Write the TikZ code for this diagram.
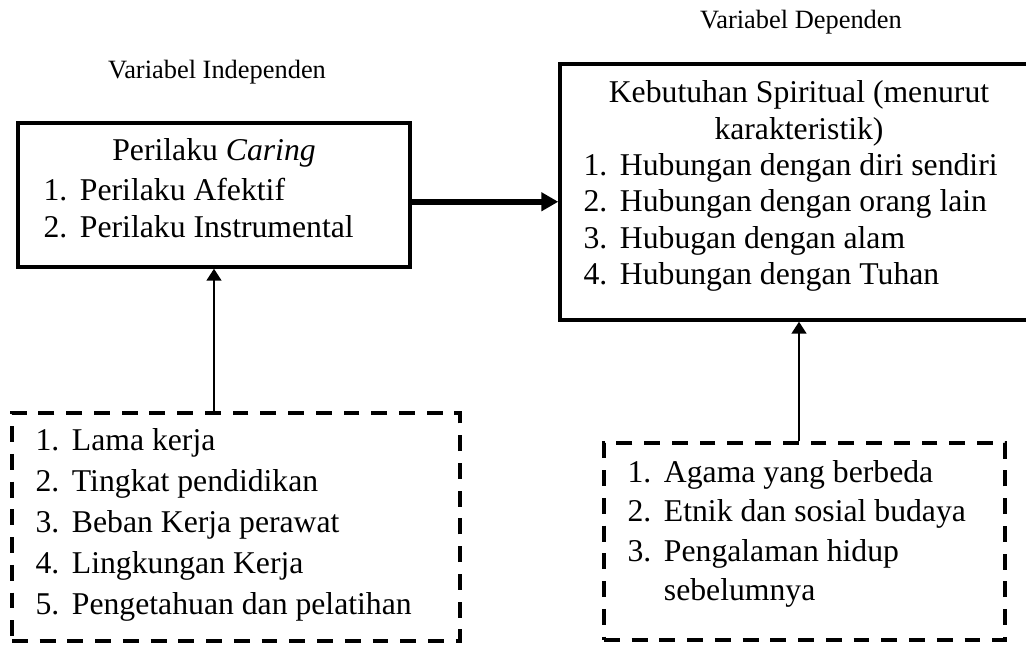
\documentclass[tikz,border=0pt]{standalone}
\usepackage{fontspec}
\setmainfont{Liberation Serif}
\usetikzlibrary{arrows.meta, positioning}
\newcommand{\pxu}{0.0133cm}
\newcommand{\itemno}[1]{\makebox[1.15em][l]{#1}}

\begin{document}
\begin{tikzpicture}[x=\pxu, y=-\pxu, font=\fontsize{12}{14}\selectfont]
    \tikzstyle{solidbox} = [draw, line width=1.3pt, inner sep=0pt]
    \tikzstyle{dashbox} = [draw, line width=1.4pt, dash pattern=on 6pt off 4.5pt,
	inner sep=0pt]
    \tikzstyle{heading} = [font=\fontsize{10}{12}\selectfont, inner sep=0pt]
    \tikzstyle{items} = [align=left, inner sep=0pt, anchor=west]
    \tikzstyle{bigarrow} = [line width=2.2pt, -{Triangle[length=6.4pt, width=6.8pt]}]
    \tikzstyle{thinarrow} = [line width=0.7pt, -{Triangle[length=4.5pt, width=5.6pt]}]

    \useasboundingbox (0,0) rectangle (1026,647);

	\begin{scope}
		\path
			node[solidbox, minimum width=392*\pxu, minimum height=144*\pxu] (caring) at (214,195) {}
			node[solidbox, minimum width=478*\pxu, minimum height=256*\pxu] (spiritual) at (799,192) {}
			node[dashbox, minimum width=448*\pxu, minimum height=228*\pxu] (factorsA) at (236,527) {}
			node[dashbox, minimum width=401*\pxu, minimum height=197*\pxu] (factorsB) at (804.5,541.5) {}

			node[heading] (indep) at (217,72) {Variabel Independen}
			node[heading] (dep) at (801,22) {Variabel Dependen}

			node[inner sep=0pt] (caringtitle) at (214,153) {Perilaku \textit{Caring}}
			node[items] (caringlist) at (43,208.5)
				{\itemno{1.}Perilaku Afektif\\ \itemno{2.}Perilaku Instrumental}

			node[inner sep=0pt, align=center, font=\fontsize{12}{13.8}\selectfont]
				(spirittitle) at (799,113.5) {Kebutuhan Spiritual (menurut\\ karakteristik)}
			node[items, font=\fontsize{12}{13.8}\selectfont] (spiritlist) at (583,222.5)
				{\itemno{1.}Hubungan dengan diri sendiri\\
				 \itemno{2.}Hubungan dengan orang lain\\
				 \itemno{3.}Hubugan dengan alam\\
				 \itemno{4.}Hubungan dengan Tuhan}

			node[items, font=\fontsize{12}{15.5}\selectfont] (listA) at (35,525)
				{\itemno{1.}Lama kerja\\
				 \itemno{2.}Tingkat pendidikan\\
				 \itemno{3.}Beban Kerja perawat\\
				 \itemno{4.}Lingkungan Kerja\\
				 \itemno{5.}Pengetahuan dan pelatihan}
			node[items, font=\fontsize{12}{14.9}\selectfont] (listB) at (627,534)
				{\itemno{1.}Agama yang berbeda\\
				 \itemno{2.}Etnik dan sosial budaya\\
				 \itemno{3.}Pengalaman hidup\\
				 \itemno{}sebelumnya}
		;

		\coordinate (link) at ([yshift=-0.09cm]caring.east);
		\draw[bigarrow] (link) -- (link -| spiritual.west);
		\draw[thinarrow] (caring.south |- factorsA.north) -- (caring.south);
		\draw[thinarrow] (spiritual.south |- factorsB.north) -- (spiritual.south);
	\end{scope}
\end{tikzpicture}
\end{document}
